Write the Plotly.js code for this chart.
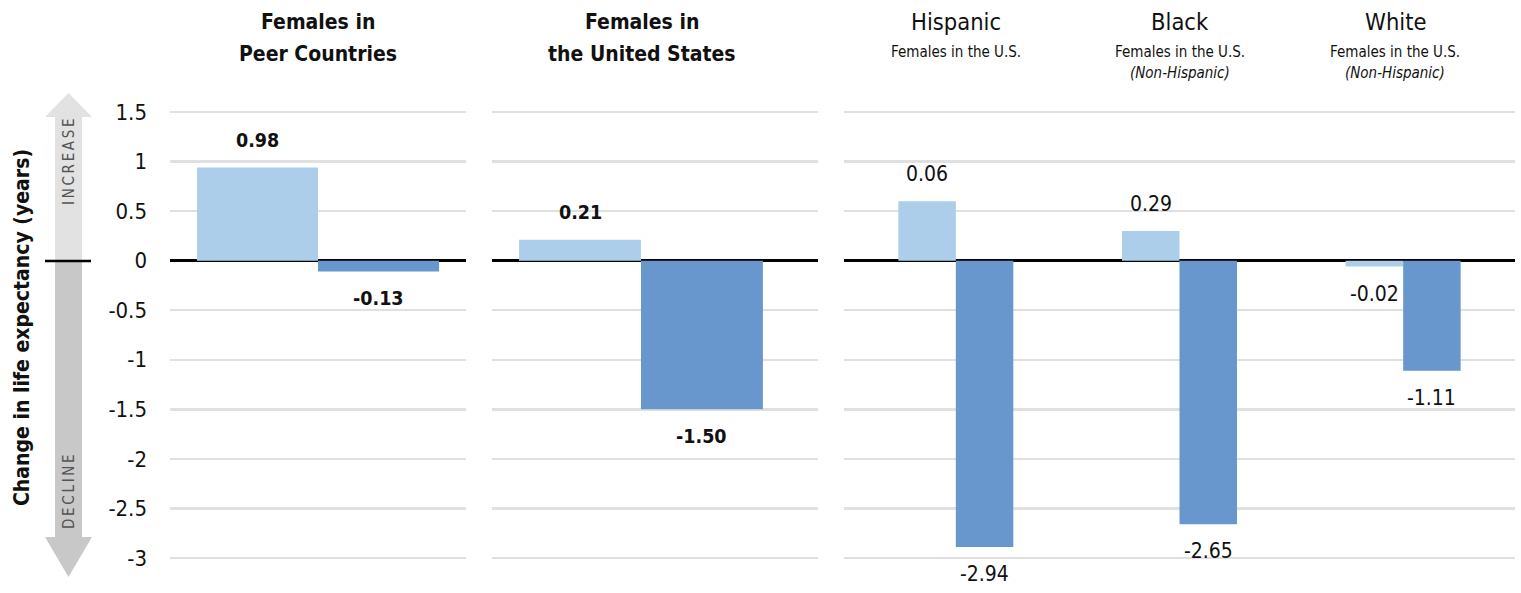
<!DOCTYPE html>
<html>
<head>
<meta charset="utf-8">
<script src="https://cdn.plot.ly/plotly-3.0.1.min.js"></script>
<style>html,body{margin:0;padding:0;background:#fff;}#chart{width:1521px;height:593px;}</style>
</head>
<body>
<div id="chart"></div>
<script>
// ---------- data ----------
const panel1Categories = ['Peer Countries'];
const panel2Categories = ['United States'];
const panel3Categories = ['Hispanic', 'Black', 'White'];

const panel1Light = [0.94];
const panel1Dark = [-0.11];
const panel2Light = [0.21];
const panel2Dark = [-1.50];
const panel3Light = [0.60, 0.30, -0.06];
const panel3Dark = [-2.89, -2.66, -1.11];

const panel1LightLabels = ['0.98'];
const panel1DarkLabels = ['-0.13'];
const panel2LightLabels = ['0.21'];
const panel2DarkLabels = ['-1.50'];
const panel3LightLabels = ['0.06', '0.29', '-0.02'];
const panel3DarkLabels = ['-2.94', '-2.65', '-1.11'];

const panel1Title = ['Females in', 'Peer Countries'];
const panel2Title = ['Females in', 'the United States'];
const panel3Titles = ['Hispanic', 'Black', 'White'];
const panel3Subtitles = ['Females in the U.S.', 'Females in the U.S.', 'Females in the U.S.'];
const panel3Notes = ['', '(Non-Hispanic)', '(Non-Hispanic)'];

const yTickValues = [1.5, 1, 0.5, 0, -0.5, -1, -1.5, -2, -2.5, -3];
const yTickLabels = ['1.5', '1', '0.5', '0', '-0.5', '-1', '-1.5', '-2', '-2.5', '-3'];
const yAxisTitle = 'Change in life expectancy (years)';
const increaseText = 'INCREASE';
const declineText = 'DECLINE';

// ---------- style ----------
const W = 1521, H = 593;
const PT = 102, PB = 570;
const FONT = '"Liberation Sans Narrow", "DejaVu Sans Condensed", "Roboto", sans-serif';
const LIGHT = '#acceea';
const DARK = '#6897ce';
const X = px => px / W;
const Y = py => (PB - py) / (PB - PT);
const spaced = s => s.split('').join('\u2009');

const panels = [
  {xa: 'x', cats: panel1Categories, light: panel1Light, dark: panel1Dark, ll: panel1LightLabels, dl: panel1DarkLabels, w: 0.409, bold: true},
  {xa: 'x2', cats: panel2Categories, light: panel2Light, dark: panel2Dark, ll: panel2LightLabels, dl: panel2DarkLabels, w: 0.374, bold: true},
  {xa: 'x3', cats: panel3Categories, light: panel3Light, dark: panel3Dark, ll: panel3LightLabels, dl: panel3DarkLabels, w: 0.257, bold: false}
];

const traces = [];
const annotations = [];
panels.forEach(p => {
  traces.push({type: 'bar', x: p.cats, y: p.light, xaxis: p.xa, yaxis: 'y', width: p.w, offset: -p.w,
    marker: {color: LIGHT}, hoverinfo: 'y', showlegend: false, name: 'light'});
  traces.push({type: 'bar', x: p.cats, y: p.dark, xaxis: p.xa, yaxis: 'y', width: p.w, offset: 0,
    marker: {color: DARK}, hoverinfo: 'y', showlegend: false, name: 'dark'});
  const addLabel = (i, v, t, dx) => {
    annotations.push({xref: p.xa, yref: 'y', x: i + dx, y: v, text: p.bold ? '<b>' + t + '</b>' : t,
      showarrow: false, yanchor: 'middle', xanchor: 'center', yshift: v >= 0 ? 27 : -27,
      font: {family: FONT, size: p.bold ? 19.5 : 21, color: '#111'}});
  };
  p.cats.forEach((c, i) => {
    addLabel(i, p.light[i], p.ll[i], -p.w / 2);
    addLabel(i, p.dark[i], p.dl[i], p.w / 2);
  });
});

// Panel titles
function paperText(px, py, text, size, extra) {
  annotations.push(Object.assign({xref: 'paper', yref: 'paper', x: X(px), y: Y(py), text: text,
    showarrow: false, xanchor: 'center', yanchor: 'middle',
    font: {family: FONT, size: size, color: '#111'}}, extra || {}));
}
paperText(318, 22, '<b>' + panel1Title[0] + '</b>', 21);
paperText(318, 54, '<b>' + panel1Title[1] + '</b>', 21);
paperText(642, 22, '<b>' + panel2Title[0] + '</b>', 21);
paperText(642, 54, '<b>' + panel2Title[1] + '</b>', 21);
const p3Centers = [956, 1180, 1395];
panel3Titles.forEach((t, i) => {
  paperText(p3Centers[i], 22, t, 23.5);
  paperText(p3Centers[i], 52, panel3Subtitles[i], 15);
  if (panel3Notes[i]) paperText(p3Centers[i], 73, '<i>' + panel3Notes[i] + '</i>', 15);
});

// Y axis title and arrow text
paperText(22, 328, '<b>' + yAxisTitle + '</b>', 21, {textangle: -90});
paperText(69, 162, spaced(increaseText), 15, {textangle: -90, font: {family: FONT, size: 15, color: '#555'}});
paperText(69, 492, spaced(declineText), 15, {textangle: -90, font: {family: FONT, size: 15, color: '#555'}});

// Arrow shapes
const pth = pts => 'M ' + pts.map(q => X(q[0]) + ',' + Y(q[1])).join(' L ') + ' Z';
const shapes = [
  {type: 'path', xref: 'paper', yref: 'paper', layer: 'below', line: {width: 0}, fillcolor: '#e2e2e2',
   path: pth([[68.5, 93], [92, 117], [82, 117], [82, 261], [55, 261], [55, 117], [45, 117]])},
  {type: 'path', xref: 'paper', yref: 'paper', layer: 'below', line: {width: 0}, fillcolor: '#c8c8c8',
   path: pth([[55, 261], [82, 261], [82, 537], [92, 537], [68.5, 577], [45, 537], [55, 537]])},
  {type: 'line', xref: 'paper', yref: 'paper', x0: X(45), x1: X(91), y0: Y(261), y1: Y(261),
   line: {color: '#000', width: 2.5}}
];

const xBase = {showgrid: false, zeroline: false, showticklabels: false, ticks: '', showline: false, fixedrange: true, type: 'category'};
const layout = {
  width: W, height: H,
  margin: {l: 0, r: 0, t: PT, b: H - PB, pad: 0},
  paper_bgcolor: '#fff', plot_bgcolor: '#fff',
  barmode: 'overlay',
  showlegend: false,
  xaxis: Object.assign({}, xBase, {domain: [X(170), X(466)], range: [-0.5, 0.5], anchor: 'y'}),
  xaxis2: Object.assign({}, xBase, {domain: [X(492), X(818)], range: [-0.457, 0.543], anchor: 'y'}),
  xaxis3: Object.assign({}, xBase, {domain: [X(844), X(1515)], range: [-0.5, 2.5], anchor: 'y'}),
  yaxis: {range: [-3.121, 1.601], tickvals: yTickValues, ticktext: yTickLabels, showgrid: true,
    gridcolor: '#e0e0e0', gridwidth: 2.5, zeroline: true, zerolinecolor: '#000', zerolinewidth: 2.5,
    showline: false, ticks: '', ticklabelstandoff: 22, anchor: 'x', fixedrange: true,
    tickfont: {family: FONT, size: 22, color: '#111'}},
  annotations: annotations,
  shapes: shapes,
  font: {family: FONT}
};

Plotly.newPlot('chart', traces, layout, {displayModeBar: false, staticPlot: true});
</script>
</body>
</html>
